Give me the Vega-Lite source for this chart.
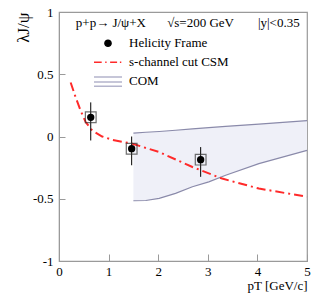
{
  "$schema": "https://vega.github.io/schema/vega-lite/v6.json",
  "autosize": {"type": "none"},
  "padding": {"left": 59, "top": 12, "right": 17, "bottom": 34},
  "width": 248,
  "height": 249,
  "config": {
    "font": "Liberation Serif",
    "view": {"stroke": "#9a9a9a", "strokeWidth": 1.2},
    "axis": {"grid": false, "domainColor": "#9a9a9a", "tickColor": "#9a9a9a", "labelColor": "#000", "labelFontSize": 13, "labelFont": "Liberation Serif", "titleFont": "Liberation Serif", "titleColor": "#000", "titleFontWeight": "normal"}
  },
  "datasets": {
    "band": [
      {"pt": 1.5, "lo": -0.516, "hi": 0.027},
      {"pt": 1.75, "lo": -0.514, "hi": 0.034},
      {"pt": 2.02, "lo": -0.497, "hi": 0.040},
      {"pt": 2.35, "lo": -0.457, "hi": 0.050},
      {"pt": 2.69, "lo": -0.404, "hi": 0.061},
      {"pt": 3.02, "lo": -0.364, "hi": 0.071},
      {"pt": 3.36, "lo": -0.311, "hi": 0.082},
      {"pt": 4.03, "lo": -0.218, "hi": 0.100},
      {"pt": 5.0, "lo": -0.112, "hi": 0.128}
    ],
    "csm": [
      {"pt": 0.235, "lam": 0.434},
      {"pt": 0.336, "lam": 0.314},
      {"pt": 0.437, "lam": 0.207},
      {"pt": 0.54, "lam": 0.114},
      {"pt": 0.67, "lam": 0.048},
      {"pt": 0.87, "lam": 0.0},
      {"pt": 1.075, "lam": -0.027},
      {"pt": 1.48, "lam": -0.058},
      {"pt": 2.02, "lam": -0.125},
      {"pt": 2.69, "lam": -0.245},
      {"pt": 3.29, "lam": -0.338},
      {"pt": 4.03, "lam": -0.418},
      {"pt": 5.0, "lam": -0.484}
    ],
    "pts": [
      {"series": "Helicity Frame", "pt": 0.64, "lam": 0.154, "lo": -0.032, "hi": 0.274},
      {"series": "Helicity Frame", "pt": 1.465, "lam": -0.098, "lo": -0.231, "hi": 0.0},
      {"series": "Helicity Frame", "pt": 2.856, "lam": -0.186, "lo": -0.324, "hi": -0.085}
    ],
    "header": [
      {"label": "p+p→ J/ψ+X", "pt": 0.34},
      {"label": "√s=200 GeV", "pt": 2.18},
      {"label": "|y|<0.35", "pt": 4.01}
    ]
  },
  "layer": [
    {
      "data": {"name": "band"},
      "mark": {"type": "area", "color": "#eff0f8", "opacity": 1},
      "encoding": {
        "x": {"field": "pt", "type": "quantitative", "scale": {"domain": [0, 5], "nice": false},
          "axis": {"values": [0, 0.5, 1, 1.5, 2, 2.5, 3, 3.5, 4, 4.5, 5], "labelExpr": "datum.value % 1 == 0 ? '' + datum.value : ''",
            "tickSize": {"condition": {"test": "datum.value % 1 == 0", "value": -7}, "value": -4},
            "labelPadding": 11, "labelFlush": false,
            "title": "pT  [GeV/c]", "titleAnchor": "end", "titleFontSize": 13, "titlePadding": 1, "titleBaseline": "top"}},
        "y": {"field": "lo", "type": "quantitative", "scale": {"domain": [-1, 1], "nice": false},
          "axis": {"values": [-1, -0.5, 0, 0.5, 1], "labelExpr": "'' + datum.value", "tickSize": -6, "labelPadding": 12,
            "title": "λJ/ψ", "titleFontSize": 17, "titleAnchor": "end", "titleAngle": -90, "titleX": -36, "titleY": 0, "titleAlign": "right", "titleBaseline": "middle"}},
        "y2": {"field": "hi"}
      }
    },
    {
      "data": {"name": "band"},
      "mark": {"type": "line", "color": "#8a8aaa", "strokeWidth": 1.2},
      "encoding": {"x": {"field": "pt", "type": "quantitative"}, "y": {"field": "lo", "type": "quantitative"}}
    },
    {
      "data": {"name": "band"},
      "mark": {"type": "line", "color": "#8a8aaa", "strokeWidth": 1.2},
      "encoding": {"x": {"field": "pt", "type": "quantitative"}, "y": {"field": "hi", "type": "quantitative"}}
    },
    {
      "mark": {"type": "rule", "color": "#999999", "strokeDash": [2, 2], "strokeWidth": 1},
      "encoding": {"y": {"datum": 0}}
    },
    {
      "data": {"name": "csm"},
      "mark": {"type": "line", "color": "#ff2a2a", "strokeWidth": 2, "strokeDash": [9, 4, 2, 4]},
      "encoding": {"x": {"field": "pt", "type": "quantitative"}, "y": {"field": "lam", "type": "quantitative"}}
    },
    {
      "data": {"name": "pts"},
      "mark": {"type": "rule", "color": "#000", "strokeWidth": 1},
      "encoding": {"x": {"field": "pt", "type": "quantitative"}, "y": {"field": "lo", "type": "quantitative"}, "y2": {"field": "hi"}}
    },
    {
      "data": {"name": "pts"},
      "mark": {"type": "point", "shape": "square", "filled": false, "size": 115, "stroke": "#333", "strokeWidth": 1.2},
      "encoding": {"x": {"field": "pt", "type": "quantitative"}, "y": {"field": "lam", "type": "quantitative"}}
    },
    {
      "data": {"name": "header"},
      "mark": {"type": "text", "align": "left", "baseline": "middle", "fontSize": 13, "font": "Liberation Serif", "color": "#000"},
      "encoding": {"x": {"field": "pt", "type": "quantitative"}, "y": {"datum": 0.91}, "text": {"field": "label"}}
    },
    {
      "data": {"name": "pts"},
      "mark": {"type": "point", "filled": true, "size": 700, "opacity": 1, "strokeWidth": 1.5},
      "encoding": {
        "x": {"field": "pt", "type": "quantitative"},
        "y": {"field": "lam", "type": "quantitative"},
        "fill": {"field": "series", "type": "nominal",
          "scale": {"domain": ["Helicity Frame", "s-channel cut CSM", "COM"], "range": ["#000000", "#ff2a2a", "#b4b4cc"]},
          "legend": {"title": null, "orient": "none", "legendX": 34, "legendY": 22, "symbolSize": 784, "clipHeight": 18.5,
            "labelFontSize": 13, "labelFont": "Liberation Serif", "labelColor": "#000", "labelOffset": 6, "rowPadding": 0,
            "symbolStrokeWidth": 1.5}},
        "stroke": {"field": "series", "type": "nominal",
          "scale": {"domain": ["Helicity Frame", "s-channel cut CSM", "COM"], "range": ["#000000", "#ff2a2a", "#b4b4cc"]},
          "legend": {"title": null, "orient": "none", "legendX": 34, "legendY": 22}},
        "shape": {"field": "series", "type": "nominal",
          "scale": {"domain": ["Helicity Frame", "s-channel cut CSM", "COM"], "range": [
            "M-0.22,0A0.22,0.22 0 1,0 0.22,0A0.22,0.22 0 1,0 -0.22,0Z",
            "M-1,0H-0.45M-0.2,0H-0.1M0.15,0H0.65M0.85,0H0.95",
            "M-1,-0.3H1M-1,0.05H1M-1,0.35H1"
          ]},
          "legend": {"title": null, "orient": "none", "legendX": 34, "legendY": 22}}
      }
    }
  ]
}
